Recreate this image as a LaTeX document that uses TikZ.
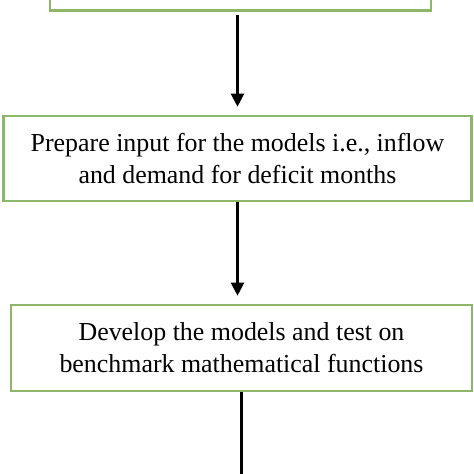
\documentclass[tikz,border=0pt]{standalone}
\usepackage{fontspec}
\setmainfont{Liberation Serif}
\usetikzlibrary{positioning,arrows.meta}
\definecolor{boxgreen}{RGB}{140,182,104}

\begin{document}
\begin{tikzpicture}[x=1pt, y=1pt, thick,
    stepbox/.style={draw=boxgreen, line width=2.6pt, fill=white, align=center,
      font=\fontsize{25.9}{32}\selectfont, inner sep=0pt},
    flow/.style={-{Triangle[length=13pt,width=13pt]}, line width=2.2pt}]
  \useasboundingbox[fill=white] (0,0) rectangle (474,-474);

  \node[stepbox, minimum width=381pt, minimum height=80pt, anchor=south](top) at (240.5,-12){};
  \node[stepbox, minimum width=468pt, minimum height=85pt](prep) at (237.5,-158.5)
    {Prepare input for the models i.e., inflow\\and demand for deficit months};
  \node[stepbox, minimum width=461pt, minimum height=86pt](dev) at (241.5,-348)
    {Develop the models and test on\\benchmark mathematical functions};
  \coordinate (next) at (241.5,-480);

  \draw[flow, shorten <=3pt, shorten >=8pt] (prep.north |- top.south) -- (prep.north);
  \draw[flow, shorten >=8pt] (prep.south) -- (prep.south |- dev.north);
  \draw[line width=2.2pt] (dev.south) -- (next);
\end{tikzpicture}
\end{document}
